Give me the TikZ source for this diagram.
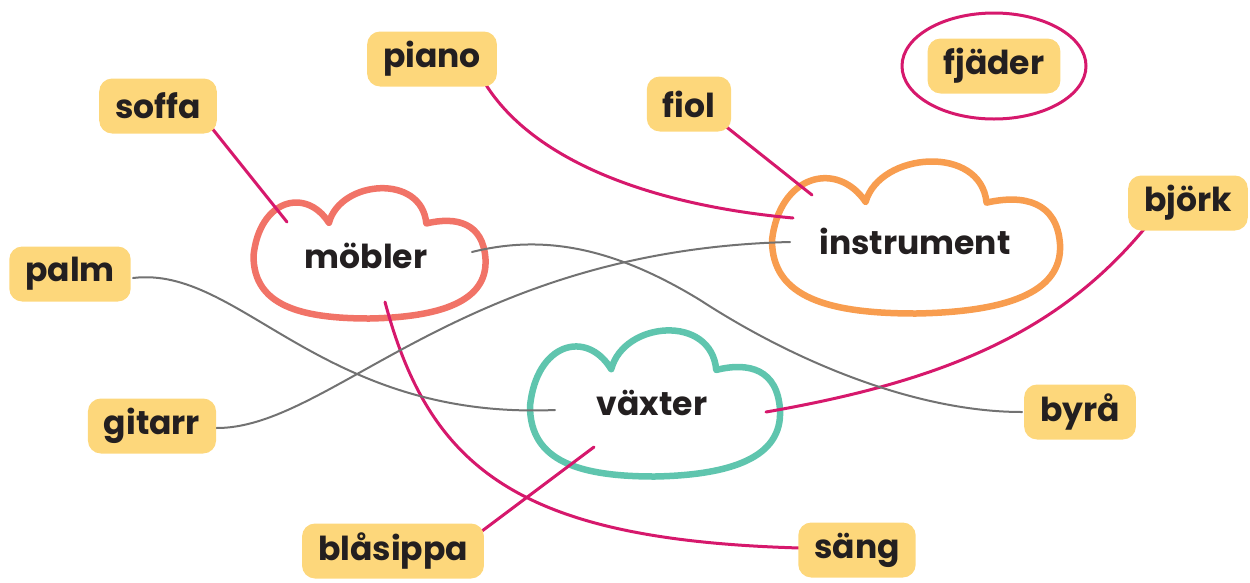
\documentclass[tikz,border=0pt]{standalone}
\usepackage{fontspec}
\setmainfont{Poppins}
\definecolor{mag}{HTML}{D6186C}
\definecolor{gline}{HTML}{727272}
\definecolor{hl}{HTML}{FDD77B}
\definecolor{coral}{HTML}{F17367}
\definecolor{orng}{HTML}{F89D4F}
\definecolor{teal}{HTML}{5FC5AE}
\definecolor{ink}{HTML}{231F20}
\newcommand\mycloud[5]{%
  \begin{scope}[shift={(#1,#2)},xscale=#3,yscale=#4]
    \draw[cloudline,draw=#5] (-0.35,-0.45)
      .. controls (-0.25,-1.1) and (0.45,-1.2) .. (0.49,-0.44)
      .. controls (0.75,-0.55) and (0.98,-0.45) .. (1,0.1)
      .. controls (1.02,0.75) and (0.6,0.98) .. (0,1)
      .. controls (-0.6,1.0) and (-1.0,0.8) .. (-1,0.05)
      .. controls (-0.95,-0.8) and (-0.55,-1.0) .. cycle;
  \end{scope}}
\tikzset{
  label/.style={fill=hl,rounded corners=13pt,text=ink,font=\fontsize{33}{36}\selectfont\bfseries,
    minimum height=55pt,inner xsep=16pt,inner ysep=4pt},
  cloudtext/.style={text=ink,font=\fontsize{33}{36}\selectfont\bfseries},
  cloudline/.style={line width=6.5pt,line join=round,fill=white},
  mconn/.style={draw=mag,line width=3pt,line cap=round},
  gconn/.style={draw=gline,line width=2pt,line cap=round},
}
\begin{document}
\begin{tikzpicture}[x=1pt,y=-1pt]
\useasboundingbox (0,0) rectangle (1250,582);
% clouds
\mycloud{369.5}{252.5}{116}{66}{coral}
\mycloud{916}{236.5}{144}{77}{orng}
\mycloud{655}{402.5}{125}{74}{teal}
\node[cloudtext] (mobler) at (366,256) {möbler};
\node[cloudtext] (instrument) at (915,241) {instrument};
\node[cloudtext] (vaxter) at (652,403) {växter};
% connector end points
\coordinate (soffaE) at (207,122);
\coordinate (moblerA) at (287,222);
\coordinate (pianoE) at (483,80);
\coordinate (instrA) at (793,218);
\coordinate (fiolE) at (724,125);
\coordinate (instrB) at (812,195);
\coordinate (bjorkE) at (1145,228);
\coordinate (vaxterA) at (766,412);
\coordinate (moblerB) at (385,302);
\coordinate (sangE) at (800,548);
\coordinate (blasippaE) at (470,540);
\coordinate (vaxterB) at (594,447);
\coordinate (moblerC) at (472,252);
\coordinate (byraE) at (1022,412);
\coordinate (palmE) at (133,278);
\coordinate (vaxterC) at (555,410);
\coordinate (gitarrE) at (215,428);
\coordinate (instrC) at (790,242);
% connectors
\draw[mconn] (soffaE) -- (moblerA);
\draw[mconn] (pianoE) .. controls (530,160) and (650,205) .. (instrA);
\draw[mconn] (fiolE) -- (instrB);
\draw[mconn] (bjorkE) .. controls (1060,330) and (950,380) .. (vaxterA);
\draw[mconn] (moblerB) .. controls (430,470) and (520,540) .. (sangE);
\draw[mconn] (blasippaE) -- (vaxterB);
\draw[gconn] (moblerC) .. controls (540,235) and (610,245) .. (700,300)
  .. controls (800,365) and (920,412) .. (byraE);
\draw[gconn] (palmE) .. controls (240,265) and (320,420) .. (vaxterC);
\draw[gconn] (gitarrE) .. controls (330,430) and (460,250) .. (instrC);
% labels
\node[label] (piano) at (432,59) {piano};
\node[label] (soffa) at (158,106) {soffa};
\node[label] (fiol) at (689,104) {fiol};
\node[label] (fjader) at (994,66) {fjäder};
\node[label] (bjork) at (1188,203) {björk};
\node[label] (palm) at (70,274) {palm};
\node[label] (gitarr) at (152,426) {gitarr};
\node[label] (byra) at (1080,412) {byrå};
\node[label] (blasippa) at (393,551) {blåsippa};
\node[label] (sang) at (857,550) {säng};
\draw[draw=mag,line width=3pt] (fjader) ellipse[x radius=92pt,y radius=53pt];
\end{tikzpicture}
\end{document}
